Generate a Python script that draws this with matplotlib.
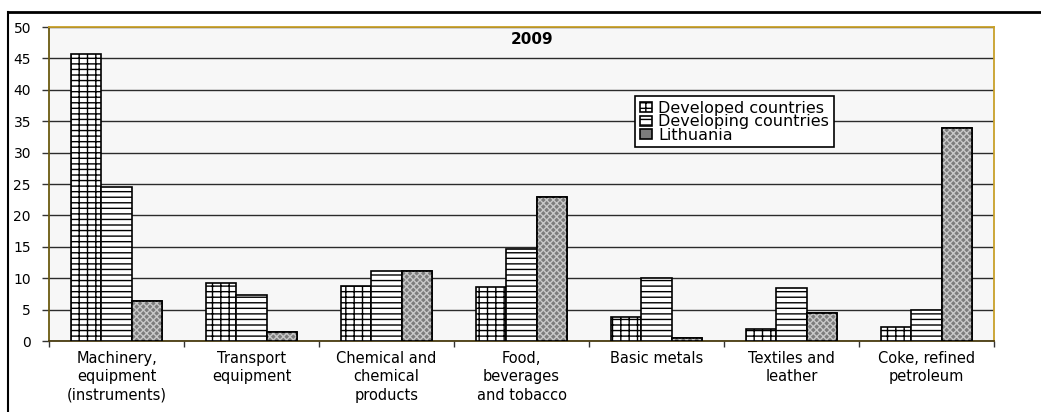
import numpy as np
import matplotlib
matplotlib.use("Agg")
import matplotlib.pyplot as plt
from matplotlib.lines import Line2D

# data
categories = ["Machinery,\nequipment\n(instruments)", "Transport\nequipment",
              "Chemical and\nchemical\nproducts", "Food,\nbeverages\nand tobacco",
              "Basic metals", "Textiles and\nleather", "Coke, refined\npetroleum"]
developed = [45.7, 9.2, 8.7, 8.6, 3.8, 1.9, 2.3]
developing = [24.6, 7.4, 11.1, 14.6, 10.0, 8.5, 5.0]
lithuania = [6.4, 1.4, 11.2, 22.9, 0.5, 4.5, 34.0]
series_names = ["Developed countries", "Developing countries", "Lithuania"]

plt.rcParams['font.family'] = ['DejaVu Sans']
plt.rcParams['hatch.linewidth'] = 1.0

fig = plt.figure(figsize=(10.41, 4.12), dpi=100)
ax = fig.add_axes([0.0471, 0.1723, 0.9078, 0.7621])
ax.set_facecolor('#f7f7f7')

x = np.arange(len(categories)) + 0.5
w = 0.226

b1 = ax.bar(x - w, developed, w, facecolor='white', edgecolor='black',
            hatch='||---', linewidth=1.2, zorder=3)
b2 = ax.bar(x, developing, w, facecolor='white', edgecolor='black',
            hatch='---', linewidth=1.2, zorder=3)
b3 = ax.bar(x + w, lithuania, w, facecolor='#7c7c7c', edgecolor='black',
            linewidth=1.2, zorder=3)
# light checker texture over the grey bars
ax.bar(x + w, lithuania, w, facecolor='none', edgecolor='#c8c8c8',
       hatch='xxxxx', linewidth=0, zorder=3.5)
ax.bar(x + w, lithuania, w, facecolor='none', edgecolor='black',
       linewidth=1.2, zorder=4)

ax.set_xlim(0, len(categories))
ax.set_ylim(0, 50)
ax.set_yticks(np.arange(0, 51, 5))
ax.yaxis.grid(True, color='#2b2b2b', linewidth=1.0, zorder=1)
ax.set_axisbelow(True)

ax.set_xticks(np.arange(len(categories) + 1))
ax.set_xticklabels([])
ax.set_xticks(x, minor=True)
ax.set_xticklabels(categories, minor=True, fontsize=10.5, linespacing=1.3)
ax.tick_params(axis='x', which='minor', length=0, pad=7)
ax.tick_params(axis='x', which='major', length=4, width=1, color='#333333')
ax.tick_params(axis='y', length=5, width=1, color='#333333', pad=8, labelsize=10)

ax.spines['left'].set_color('#6b5a10')
ax.spines['bottom'].set_color('#4a3c10')
ax.spines['top'].set_color('#c8a02a')
ax.spines['right'].set_color('#c8a02a')
for s in ax.spines.values():
    s.set_linewidth(1.3)

ax.text(0.511, 0.985, "2009", transform=ax.transAxes, ha='center', va='top',
        fontsize=11, fontweight='bold')

leg = ax.legend([b1, b2, b3], series_names, loc='upper left',
                bbox_to_anchor=(0.62, 0.78), fontsize=11.5, frameon=True,
                fancybox=False, shadow=False, framealpha=1, edgecolor='black',
                handlelength=0.75, handleheight=0.6, handletextpad=0.4,
                labelspacing=-0.1, borderpad=0.3, borderaxespad=0)
leg.get_frame().set_linewidth(1.2)
leg.set_zorder(6)

# outer frame (top and left edges visible)
fig.add_artist(Line2D([8 / 1041, 1], [1 - 12 / 412, 1 - 12 / 412],
                      transform=fig.transFigure, color='black', linewidth=2))
fig.add_artist(Line2D([8 / 1041, 8 / 1041], [0, 1 - 12 / 412],
                      transform=fig.transFigure, color='black', linewidth=1.5))

fig.savefig('out.png', dpi=100)
